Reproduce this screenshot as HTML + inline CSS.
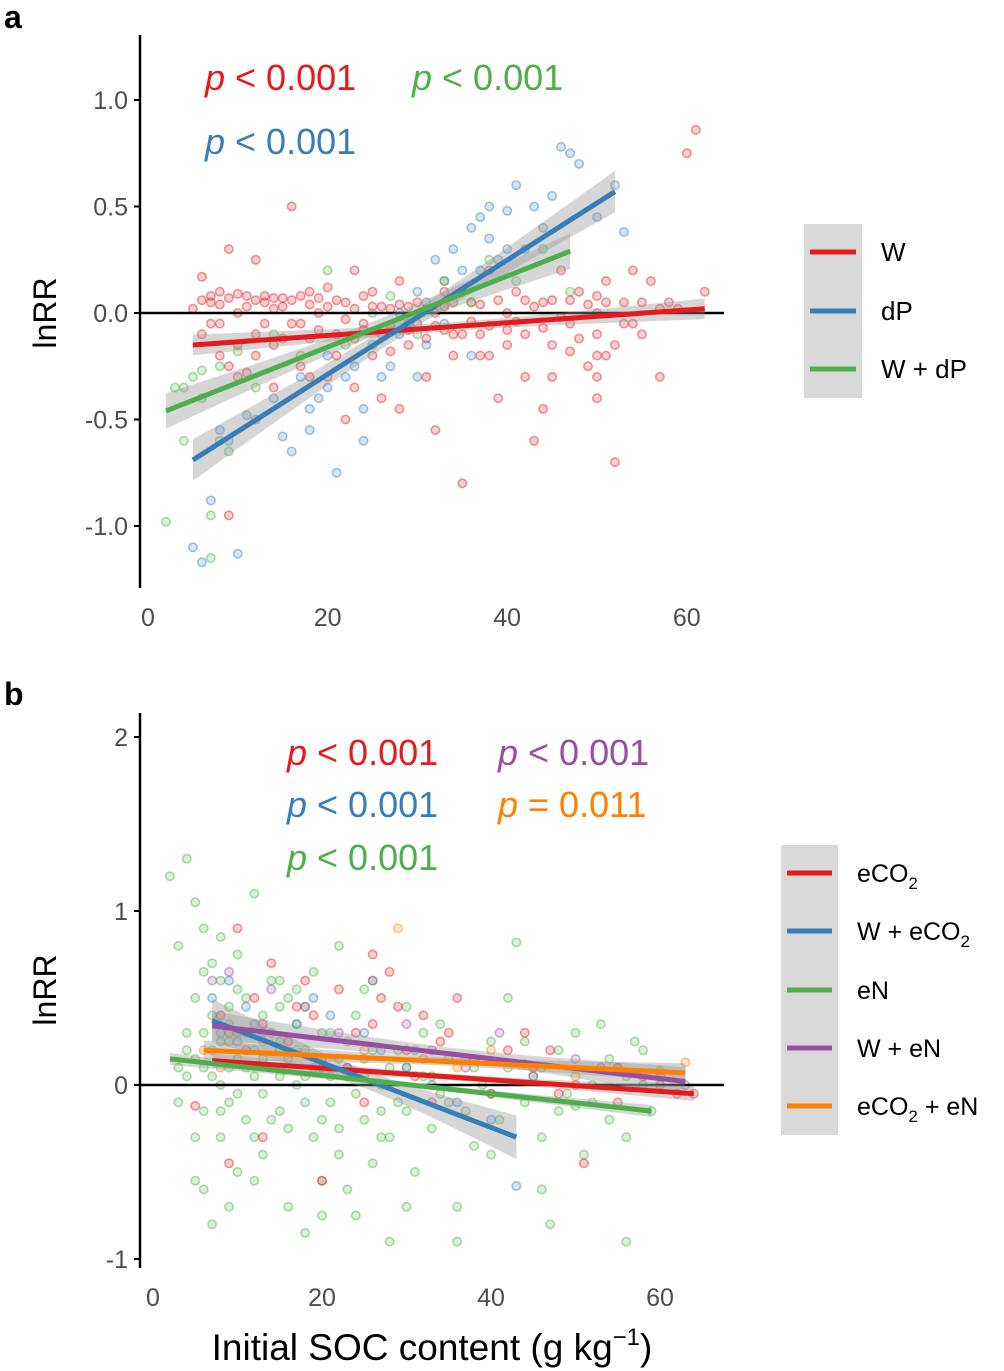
<!DOCTYPE html>
<html><head><meta charset="utf-8"><style>
body{margin:0;background:#fff;}
svg{display:block;font-family:"Liberation Sans",Arial,sans-serif;}
</style></head><body>
<svg id="chart" width="1004" height="1371" viewBox="0 0 1004 1371"></svg>
<script>
// ---------- Panel a data ----------
const aRedPts=[[5,0.02],[6,0.17],[7,-0.05],[8,0.1],[8,-0.2],[9,0.3],[10,0.0],[10,-0.3],[11,0.08],[12,-0.1],[12,0.25],[13,0.05],[14,-0.15],[15,0.07],[16,0.5],[16,-0.05],[17,-0.25],[18,0.1],[19,0.0],[20,-0.3],[20,0.12],[21,-0.1],[22,0.05],[22,-0.5],[23,0.2],[24,-0.05],[25,0.1],[25,-0.2],[26,-0.4],[27,0.02],[28,0.15],[29,-0.15],[30,0.05],[31,-0.3],[32,0.0],[33,0.1],[34,-0.2],[35,-0.8],[36,0.05],[37,-0.1],[38,0.2],[39,-0.4],[40,0.0],[41,0.1],[42,-0.3],[43,-0.6],[44,0.05],[45,-0.15],[46,0.2],[47,-0.05],[48,0.1],[49,-0.25],[50,0.0],[50,-0.4],[51,0.15],[51,-0.2],[52,-0.7],[53,0.05],[54,0.2],[55,-0.1],[56,0.15],[57,-0.3],[58,0.05],[59,0.02],[60,0.75],[61,0.86],[62,0.1],[35,-0.1],[30,-0.05],[26,0.03],[19,-0.08],[14,0.02],[9,-0.95],[11,-0.28],[45,0.06],[40,-0.08],[7,0.05],[13,-0.05],[18,-0.12],[24,0.08],[33,-0.08],[43,0.03],[48,-0.12],[54,-0.05],
[6,0.06],[7,0.08],[8,0.04],[9,0.07],[10,0.09],[11,0.03],[12,0.06],[13,0.08],[14,0.07],[15,0.03],[16,0.06],[17,0.08],[18,0.04],[19,0.07],[20,0.03],[21,0.06],[22,-0.03],[23,0.02],[24,-0.08],[25,0.03],[27,-0.06],[28,0.04],[29,0.03],[31,0.02],[32,-0.06],[33,0.03],[34,0.05],[36,-0.04],[37,0.04],[38,-0.06],[39,0.06],[41,-0.04],[42,0.06],[44,-0.07],[46,-0.02],[47,0.06],[49,0.04],[50,0.08],[50,-0.1],[50,-0.2],[50,-0.3],[51,0.05],[52,-0.15],[53,-0.05],[55,0.05],[57,0.02],[6,-0.1],[8,-0.05],[10,-0.15],[12,-0.2],[15,-0.12],[17,-0.05],[21,-0.2],[23,-0.12],[27,-0.18],[29,-0.08],[31,-0.12],[34,-0.1],[37,-0.2],[40,-0.15],[42,-0.1],[45,-0.3],[47,-0.18],[9,-0.25],[14,-0.35],[18,-0.3],[23,-0.35],[28,-0.45],[32,-0.55],[38,-0.2],[44,-0.45]];
const aBluePts=[[5,-1.1],[6,-1.17],[7,-0.88],[8,-0.55],[9,-0.6],[10,-1.13],[11,-0.48],[12,-0.5],[14,-0.4],[15,-0.58],[16,-0.65],[17,-0.3],[18,-0.55],[19,-0.4],[20,-0.2],[21,-0.75],[22,-0.3],[24,-0.45],[25,-0.15],[26,-0.1],[27,-0.25],[28,0.0],[29,-0.05],[30,0.1],[31,-0.15],[32,0.25],[33,0.15],[34,0.3],[35,0.2],[36,0.4],[37,0.45],[38,0.5],[39,0.25],[40,0.48],[41,0.6],[42,0.3],[44,0.4],[45,0.55],[46,0.78],[47,0.75],[48,0.7],[50,0.45],[52,0.6],[53,0.38],[36,-0.2],[30,-0.3],[20,-0.35],[23,-0.25],[26,-0.3],[28,-0.1],[31,0.05],[33,-0.05],[35,0.1],[37,0.2],[38,0.35],[40,0.3],[43,0.5],[24,-0.6],[18,-0.45]];
const aGreenPts=[[2,-0.98],[3,-0.35],[4,-0.6],[5,-0.3],[6,-0.4],[7,-1.15],[7,-0.95],[8,-0.25],[10,-0.18],[12,-0.35],[14,-0.1],[17,-0.2],[20,0.2],[22,-0.15],[25,0.0],[27,0.08],[30,-0.1],[33,0.15],[36,0.05],[38,0.25],[41,0.15],[44,0.3],[47,0.1],[8,-0.6],[4,-0.35],[6,-0.27],[9,-0.65]];
const aFits=[{x0:5,y0:-0.15,x1:62,y1:0.02},{x0:5,y0:-0.69,x1:52,y1:0.57},{x0:2,y0:-0.46,x1:47,y1:0.29}];
const aSe=[0.035,0.07,0.06];
const aYTicks=[1.0,0.5,0.0,-0.5,-1.0];
const aYLabels=["1.0","0.5","0.0","-0.5","-1.0"];
const aXTicks=[0,20,40,60];
// ---------- Panel b data ----------
const bGreenPts=[[2,1.2],[3,0.8],[3,-0.1],[4,1.3],[4,0.3],[5,1.05],[5,-0.3],[5,0.5],[6,0.9],[6,-0.6],[6,0.1],[7,0.7],[7,-0.8],[7,0.2],[8,0.6],[8,-0.3],[8,0.0],[9,0.45],[9,-0.1],[10,0.55],[10,-0.5],[10,0.15],[11,0.3],[11,-0.2],[12,1.1],[12,0.05],[13,0.4],[13,-0.4],[14,0.6],[14,0.1],[15,-0.15],[15,0.25],[16,-0.7],[16,0.5],[17,0.0],[17,0.35],[18,-0.85],[18,0.2],[19,-0.3],[19,0.65],[20,0.1],[20,-0.55],[21,0.3],[21,-0.1],[22,0.8],[22,-0.25],[23,0.05],[23,-0.6],[24,0.4],[25,-0.2],[25,0.15],[26,-0.45],[26,0.6],[27,0.0],[28,-0.3],[28,-0.9],[29,0.2],[30,-0.15],[30,0.45],[31,-0.5],[32,0.05],[33,-0.25],[34,0.35],[35,-0.1],[36,-0.7],[37,0.15],[38,-0.35],[39,0.0],[40,0.25],[41,-0.2],[42,0.5],[43,0.82],[44,-0.1],[45,0.05],[46,-0.3],[47,-0.8],[48,0.2],[49,-0.05],[50,0.3],[51,-0.4],[52,0.0],[53,0.35],[54,-0.2],[55,0.1],[56,-0.3],[57,0.25],[58,0.0],[59,-0.15],[56,-0.9],[36,-0.9],[24,-0.75],[4,0.05],[9,0.25],[13,-0.05],[18,0.45],[27,-0.15],[32,0.3],[44,0.12],[50,-0.12],
[3,0.1],[4,0.2],[5,0.15],[6,0.3],[6,-0.15],[7,0.05],[7,0.4],[8,0.25],[8,-0.15],[9,0.1],[9,0.35],[10,-0.05],[10,0.3],[11,0.1],[11,0.5],[12,0.2],[12,-0.3],[13,0.15],[14,-0.2],[14,0.3],[15,0.05],[15,0.45],[16,0.15],[16,-0.25],[17,0.2],[18,-0.1],[18,0.05],[19,0.1],[20,0.3],[20,-0.2],[21,0.05],[22,0.15],[22,-0.4],[23,0.25],[24,-0.05],[25,0.05],[26,0.2],[27,-0.3],[28,0.1],[29,-0.1],[30,0.1],[31,0.2],[33,0.05],[34,-0.05],[35,0.15],[37,-0.15],[38,0.1],[40,-0.05],[42,0.1],[44,0.25],[46,0.1],[48,-0.15],[52,-0.1],[54,0.15],[56,0.05],[58,0.2],[5,-0.55],[9,-0.7],[12,-0.55],[20,-0.75],[30,-0.7],[40,-0.4],[46,-0.6],[6,0.65],[8,0.85],[10,0.75],[15,0.6],[17,0.55],[25,0.55]];
const bRedPts=[[5,-0.12],[8,0.4],[9,-0.45],[10,0.9],[11,0.2],[12,0.5],[13,-0.3],[14,0.7],[15,0.1],[17,0.45],[18,0.6],[20,0.15],[22,0.55],[24,0.3],[25,-0.1],[27,0.5],[28,0.65],[30,0.2],[32,0.4],[33,-0.1],[35,0.3],[38,0.15],[40,-0.05],[42,0.2],[45,0.1],[48,-0.05],[50,0.0],[51,-0.45],[53,0.1],[55,-0.1],[58,0.05],[60,0.0],[62,-0.05],[64,-0.05],[20,-0.55],[26,0.75],[9,0.3],[13,0.35],[16,0.25],[19,0.4],[23,0.1],[26,0.35],[29,0.45],[31,0.05],[34,0.25],[36,0.5],[44,0.3],[47,0.2]];
const bBluePts=[[7,0.5],[8,0.3],[9,0.6],[10,0.25],[11,0.45],[13,0.3],[15,0.2],[17,0.35],[19,0.5],[21,0.4],[23,0.1],[25,0.3],[27,0.2],[30,0.1],[33,0.0],[36,-0.1],[40,-0.2],[43,-0.58]];
const bPurplePts=[[7,0.6],[9,0.65],[12,0.35],[14,0.55],[18,0.45],[22,0.3],[26,0.6],[30,0.35],[33,0.2],[37,0.1],[41,0.3],[45,0.05],[50,0.15],[55,0.1],[60,0.05],[63,0.0]];
const bOrangePts=[[6,0.2],[8,0.1],[10,0.3],[13,0.25],[16,0.2],[20,0.15],[25,0.2],[29,0.9],[32,0.15],[36,0.1],[40,0.2],[45,0.1],[50,0.05],[55,0.1],[60,0.08],[63,0.13]];
const bFits=[{x0:7,y0:0.14,x1:64,y1:-0.05},{x0:7,y0:0.37,x1:43,y1:-0.3},{x0:2,y0:0.15,x1:59,y1:-0.15},{x0:7,y0:0.34,x1:63,y1:0.02},{x0:6,y0:0.2,x1:63,y1:0.07}];
const bSe=[0.03,0.09,0.025,0.06,0.04];
const bYTicks=[2,1,0,-1];
const bXTicks=[0,20,40,60];

const NS="http://www.w3.org/2000/svg";
const svg=document.getElementById('chart');
function mk(tag,attrs,parent){const e=document.createElementNS(NS,tag);for(const k in attrs)e.setAttribute(k,attrs[k]);(parent||svg).appendChild(e);return e;}
const C={red:"#e41a1c",blue:"#377eb8",green:"#4daf4a",purple:"#984ea3",orange:"#ff7f00"};

const ax={sx:x=>148+x*8.98,sy:y=>313-y*213,xl:140,xr:724,yt:35,yb:588};
const bx={sx:x=>153+x*8.45,sy:y=>1085-y*174,xl:140,xr:724,yt:713,yb:1268};

function panel(P,name){
  const g=mk('g',{});
  
  
  return g;
}
function points(g,P,pts,col,name){
  const pg=mk('g',{},g);
  
  
  pts.forEach(p=>{
    const c=mk('circle',{cx:P.sx(p[0]),cy:P.sy(p[1]),r:4.2,fill:col,'fill-opacity':0.2,stroke:col,'stroke-opacity':0.45,'stroke-width':1.6},pg);
    
    
  });
}
function band(g,P,f,se,name){
  const xm=(f.x0+f.x1)/2, h=(f.x1-f.x0)/2, n=30, up=[], dn=[];
  for(let i=0;i<=n;i++){
    const x=f.x0+(f.x1-f.x0)*i/n;
    const y=f.y0+(f.y1-f.y0)*i/n;
    const w=se*Math.sqrt(0.35+Math.pow((x-xm)/h,2)*1.6);
    up.push([P.sx(x),P.sy(y+w)]);dn.push([P.sx(x),P.sy(y-w)]);
  }
  const pts=up.concat(dn.reverse()).map(p=>p.join(',')).join(' ');
  const b=mk('polygon',{points:pts,fill:'#999','fill-opacity':0.4},g);
  
  
}
function fitLine(g,P,f,col,name){
  const l=mk('line',{x1:P.sx(f.x0),y1:P.sy(f.y0),x2:P.sx(f.x1),y2:P.sy(f.y1),stroke:col,'stroke-width':5},g);
  
  
}
function axes(g,P,yt,yl,xt,pref){
  const ya=mk('line',{x1:P.xl,y1:P.yt,x2:P.xl,y2:P.yb,stroke:'#000','stroke-width':2.5},g);
  
  
  yt.forEach((v,i)=>{
    mk('line',{x1:P.xl-6,y1:P.sy(v),x2:P.xl,y2:P.sy(v),stroke:'#000','stroke-width':2},g);
    const t=mk('text',{x:P.xl-12,y:P.sy(v)+9,'text-anchor':'end','font-size':25,fill:'#4d4d4d'},g);
    t.textContent=yl[i];
    
    
  });
  xt.forEach(v=>{
    const t=mk('text',{x:P.sx(v),y:P.yb+38,'text-anchor':'middle','font-size':25,fill:'#4d4d4d'},g);
    t.textContent=String(v);
    
    
  });
  const z=mk('line',{x1:P.xl,y1:P.sy(0),x2:P.xr,y2:P.sy(0),stroke:'#000','stroke-width':2.5},g);
  
  
}
function ptext(g,x,y,col,rest,name){
  const t=mk('text',{x:x,y:y,'font-size':36,fill:col},g);
  t.innerHTML='<tspan font-style="italic">p</tspan>'+rest;
  
  
}
function legend(g,x,y,w,h,items,ys,fs,pref){
  const r=mk('rect',{x:x,y:y,width:w,height:h,fill:'#d9d9d9'},g);
  
  
  items.forEach((it,i)=>{
    mk('line',{x1:x+6,x2:x+w-6,y1:ys[i],y2:ys[i],stroke:it[1],'stroke-width':5},g);
    const t=mk('text',{x:x+w+19,y:ys[i]+9,'font-size':fs,fill:'#000'},g);
    t.innerHTML=it[0];
    
    
  });
}
function ylabel(g,x,y,name){
  const t=mk('text',{x:x,y:y,'font-size':32,'text-anchor':'middle',transform:`rotate(-90 ${x} ${y})`},g);
  t.textContent='lnRR';
  
  
}

// Panel a
const ga=panel(ax,'panel-a');
const la=mk('text',{x:4,y:28,'font-size':32,'font-weight':'bold'},ga);la.textContent='a';


points(ga,ax,aRedPts,C.red,'a-w-points');
points(ga,ax,aBluePts,C.blue,'a-dp-points');
points(ga,ax,aGreenPts,C.green,'a-wdp-points');
axes(ga,ax,aYTicks,aYLabels,aXTicks,'a');
const aCols=[C.red,C.blue,C.green];
aFits.forEach((f,i)=>band(ga,ax,f,aSe[i],'a-ci-band'));
aFits.forEach((f,i)=>fitLine(ga,ax,f,aCols[i],'a-fit-line'));
ylabel(ga,56,313,'a-y-axis-title');
ptext(ga,205,90,C.red,' &lt; 0.001','a-p-w');
ptext(ga,412,90,C.green,' &lt; 0.001','a-p-wdp');
ptext(ga,205,154,C.blue,' &lt; 0.001','a-p-dp');
legend(ga,804,224,58,174,[['W',C.red],['dP',C.blue],['W + dP',C.green]],[252,311,369],26,'a');

// Panel b
const gb=panel(bx,'panel-b');
const lb=mk('text',{x:4,y:705,'font-size':32,'font-weight':'bold'},gb);lb.textContent='b';


points(gb,bx,bGreenPts,C.green,'b-en-points');
points(gb,bx,bRedPts,C.red,'b-eco2-points');
points(gb,bx,bBluePts,C.blue,'b-weco2-points');
points(gb,bx,bPurplePts,C.purple,'b-wen-points');
points(gb,bx,bOrangePts,C.orange,'b-eco2en-points');
axes(gb,bx,bYTicks,bYTicks.map(String),bXTicks,'b');
const bCols=[C.red,C.blue,C.green,C.purple,C.orange];
bFits.forEach((f,i)=>band(gb,bx,f,bSe[i],'b-ci-band'));
bFits.forEach((f,i)=>fitLine(gb,bx,f,bCols[i],'b-fit-line'));
ylabel(gb,56,990,'b-y-axis-title');
ptext(gb,287,765,C.red,' &lt; 0.001','b-p-eco2');
ptext(gb,498,765,C.purple,' &lt; 0.001','b-p-wen');
ptext(gb,287,817,C.blue,' &lt; 0.001','b-p-weco2');
ptext(gb,498,817,C.orange,' = 0.011','b-p-eco2en');
ptext(gb,287,870,C.green,' &lt; 0.001','b-p-en');
legend(gb,781,845,57,290,[
  ['eCO<tspan font-size="17" dy="7">2</tspan>',C.red],
  ['W + eCO<tspan font-size="17" dy="7">2</tspan>',C.blue],
  ['eN',C.green],
  ['W + eN',C.purple],
  ['eCO<tspan font-size="17" dy="7">2</tspan><tspan dy="-7"> + eN</tspan>',C.orange]],
  [873,931,990,1048,1106],25,'b');
const xt=mk('text',{x:432,y:1360,'font-size':37,'text-anchor':'middle'},gb);
xt.innerHTML='Initial SOC content (g kg<tspan font-size="24" dy="-15">−1</tspan><tspan dy="15">)</tspan>';


</script>
</body></html>
